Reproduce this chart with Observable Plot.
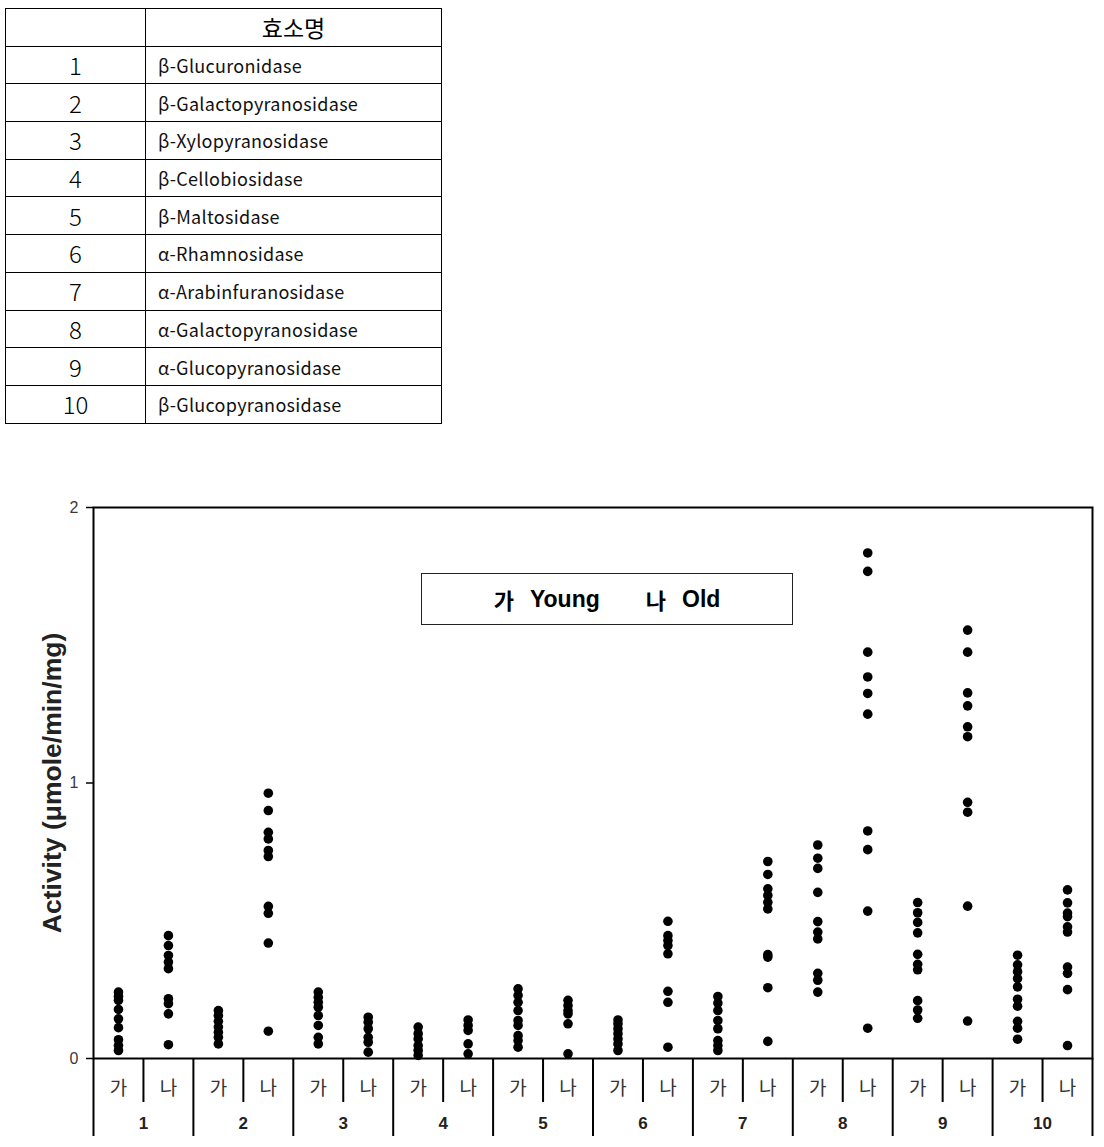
<!DOCTYPE html>
<html>
<head>
<meta charset="utf-8">
<script src="https://cdn.jsdelivr.net/npm/d3@7"></script>
<script src="https://cdn.jsdelivr.net/npm/@observablehq/plot@0.6"></script>
<style>
  html, body { margin: 0; padding: 0; background: #fff; }
  body { width: 1104px; height: 1147px; position: relative; overflow: hidden; font-family: "Noto Sans CJK KR", "Noto Sans", sans-serif; color: #000; }
  #tbl { position: absolute; left: 5px; top: 8px; border-collapse: collapse; table-layout: fixed; width: 437px; }
  #tbl td { border: 1px solid #000; height: 36.7px; padding: 0; line-height: 1; }
  #tbl td.num { width: 139px; text-align: center; font-size: 24px; font-weight: 300; }
  #tbl td.name { text-align: left; padding-left: 12px; font-size: 18px; letter-spacing: 0.3px; color: #111; }
  #tbl td.head { text-align: center; font-size: 23px; }
  #chart { position: absolute; left: 0; top: 440px; }
  #legend { position: absolute; left: 421px; top: 573px; width: 370px; height: 50px; border: 1px solid #222; background: #fff;
            display: flex; align-items: center; justify-content: center; font-family: "Liberation Sans", Arial, "Noto Sans CJK KR", sans-serif;
            font-weight: bold; font-size: 23px; }
  #legend .k { font-family: "Noto Sans CJK KR", sans-serif; font-weight: 700; font-size: 22px; margin-right: 16px; }
  #legend .item { display: flex; align-items: center; }
  #legend .item + .item { margin-left: 46px; }
</style>
</head>
<body>
<table id="tbl"></table>
<div id="chart"></div>
<div id="legend"></div>
<script>
// ---------- data ----------
const tableHeader = "효소명";
const enzymeIds = ["1", "2", "3", "4", "5", "6", "7", "8", "9", "10"];
const enzymeNames = [
  "β-Glucuronidase",
  "β-Galactopyranosidase",
  "β-Xylopyranosidase",
  "β-Cellobiosidase",
  "β-Maltosidase",
  "α-Rhamnosidase",
  "α-Arabinfuranosidase",
  "α-Galactopyranosidase",
  "α-Glucopyranosidase",
  "β-Glucopyranosidase"
];
const ageKeys = ["가", "나"];
const ageNames = ["Young", "Old"];
const yLabel = "Activity (μmole/min/mg)";
const yTicks = [0, 1, 2];

// activity values, one list per enzyme, 가 (Young)
const youngValues = [
  [0.241, 0.225, 0.211, 0.178, 0.144, 0.112, 0.068, 0.047, 0.029],
  [0.174, 0.156, 0.135, 0.114, 0.095, 0.077, 0.053],
  [0.241, 0.222, 0.204, 0.186, 0.156, 0.120, 0.077, 0.053],
  [0.114, 0.090, 0.071, 0.047, 0.029, 0.011],
  [0.253, 0.229, 0.204, 0.174, 0.138, 0.120, 0.083, 0.065, 0.041],
  [0.140, 0.126, 0.108, 0.090, 0.071, 0.053, 0.029],
  [0.225, 0.201, 0.174, 0.138, 0.108, 0.065, 0.047, 0.029],
  [0.775, 0.727, 0.690, 0.603, 0.497, 0.459, 0.434, 0.309, 0.284, 0.241],
  [0.566, 0.529, 0.494, 0.456, 0.378, 0.342, 0.322, 0.210, 0.176, 0.146],
  [0.375, 0.340, 0.315, 0.290, 0.260, 0.215, 0.190, 0.135, 0.110, 0.070]
];
// 나 (Old)
const oldValues = [
  [0.446, 0.410, 0.374, 0.350, 0.326, 0.217, 0.199, 0.162, 0.050],
  [0.963, 0.900, 0.821, 0.797, 0.755, 0.733, 0.552, 0.527, 0.419, 0.099],
  [0.150, 0.132, 0.108, 0.077, 0.059, 0.023],
  [0.140, 0.120, 0.102, 0.053, 0.017],
  [0.211, 0.192, 0.174, 0.162, 0.126, 0.017],
  [0.498, 0.446, 0.428, 0.410, 0.380, 0.244, 0.204, 0.041],
  [0.715, 0.668, 0.616, 0.592, 0.567, 0.543, 0.377, 0.368, 0.257, 0.062],
  [1.835, 1.768, 1.475, 1.385, 1.325, 1.250, 0.826, 0.758, 0.535, 0.110],
  [1.555, 1.475, 1.327, 1.280, 1.204, 1.168, 0.930, 0.894, 0.553, 0.136],
  [0.612, 0.565, 0.528, 0.515, 0.478, 0.459, 0.332, 0.309, 0.250, 0.047]
];

// ---------- table ----------
const tbl = document.getElementById("tbl");
{
  const tr = document.createElement("tr");
  tr.innerHTML = `<td class="num"></td><td class="head">${tableHeader}</td>`;
  tbl.appendChild(tr);
  enzymeIds.forEach((id, i) => {
    const r = document.createElement("tr");
    r.innerHTML = `<td class="num">${id}</td><td class="name">${enzymeNames[i]}</td>`;
    tbl.appendChild(r);
  });
}

// ---------- legend ----------
document.getElementById("legend").innerHTML = ageKeys
  .map((k, i) => `<span class="item"><span class="k">${k}</span><span>${ageNames[i]}</span></span>`)
  .join("");

// ---------- chart ----------
const points = [];
[youngValues, oldValues].forEach((series, s) => {
  series.forEach((vals, g) => vals.forEach(v => points.push({group: g, sub: s, value: v})));
});
const subCells = [];
enzymeIds.forEach((id, g) => ageKeys.forEach((k, s) => subCells.push({group: g, sub: s, key: k, y: 0})));
const groupCells = enzymeIds.map((id, g) => ({group: g, id, y: 0}));
const groupBounds = d3.range(enzymeIds.length + 1).map(b => ({x: b, y: 0}));
const subBounds = enzymeIds.map((id, g) => ({x: g + 0.5, y: 0}));
const subPos = d => d.group + (d.sub + 0.5) / ageKeys.length;
const yTickRows = yTicks.map(t => ({x: 0, y: t, label: String(t)}));

const plot = Plot.plot({
  width: 1104,
  height: 707,
  marginLeft: 93,
  marginRight: 12,
  marginTop: 67,
  marginBottom: 89,
  style: {fontFamily: "'Liberation Sans', Arial, 'Noto Sans CJK KR', sans-serif", background: "transparent"},
  x: {domain: [0, enzymeIds.length], axis: null},
  y: {domain: [0, 2], axis: null},
  marks: [
    Plot.ruleY(yTickRows, {y: "y", x1: "x", x2: "x", insetLeft: -7, stroke: "#000", strokeWidth: 1.5}),
    Plot.text(yTickRows, {x: "x", y: "y", text: "label", textAnchor: "end", dx: -15, fontSize: 16, fill: "#3a3a3a"}),
    Plot.frame({stroke: "#000", strokeWidth: 2}),
    Plot.ruleX(groupBounds, {x: "x", y1: "y", y2: "y", insetBottom: -78, stroke: "#000", strokeWidth: 2}),
    Plot.ruleX(subBounds, {x: "x", y1: "y", y2: "y", insetBottom: -44, stroke: "#000", strokeWidth: 2}),
    Plot.text(subCells, {x: subPos, y: "y", text: "key", dy: 30, fontSize: 19, fill: "#333", fontFamily: "'Noto Sans CJK KR', sans-serif"}),
    Plot.text(groupCells, {x: d => d.group + 0.5, y: "y", text: "id", dy: 65, fontSize: 17, fontWeight: "bold", fill: "#222"}),
    Plot.text([yLabel], {text: d => d, frameAnchor: "left", textAnchor: "middle", rotate: -90, dx: -41, fontSize: 26.5, fontWeight: "bold", fill: "#222"}),
    Plot.dot(points, {x: subPos, y: "value", r: 4.8, fill: "#000"})
  ]
});
document.getElementById("chart").appendChild(plot);
</script>
</body>
</html>
